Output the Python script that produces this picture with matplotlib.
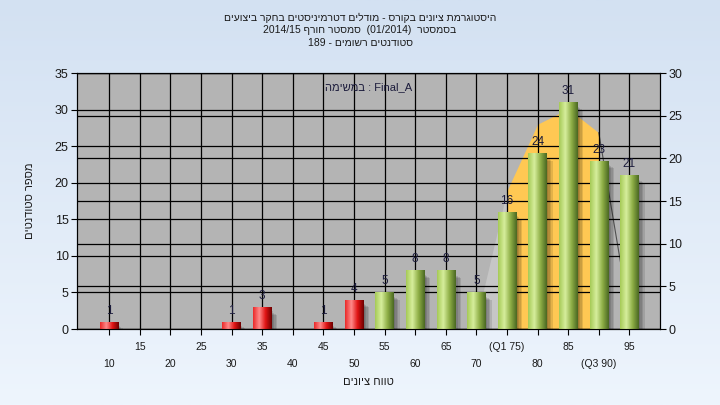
import re
import numpy as np
import matplotlib
matplotlib.use('Agg')
import matplotlib.pyplot as plt
from matplotlib.colors import LinearSegmentedColormap

plt.rcParams['font.family'] = ['Liberation Sans', 'DejaVu Sans']

# data
grades = [10, 15, 20, 25, 30, 35, 40, 45, 50, 55, 60, 65, 70, 75, 80, 85, 90, 95]
counts = [1, 0, 0, 0, 1, 3, 0, 1, 4, 5, 8, 8, 5, 16, 24, 31, 23, 21]
tick_labels = ['10', '15', '20', '25', '30', '35', '40', '45', '50', '55', '60',
               '65', '70', '(Q1 75)', '80', '85', '(Q3 90)', '95']
pass_grade = 55
curve_grades = [70, 75, 80, 85, 90, 95]
curve_vals = [1.0, 16.2, 24.0, 25.8, 23.0, 1.6]   # right axis units
q1, q3 = 75, 90

title_lines = ['היסטוגרמת ציונים בקורס - מודלים דטרמיניסטים בחקר ביצועים',
               'בסמסטר  (01/2014)  סמסטר חורף 2014/15',
               'סטודנטים רשומים - 189']
task_text = 'Final_A : במשימה'
xlabel = 'טווח ציונים'
ylabel = 'מספר סטודנטים'


def rtl(text):
    # crude bidi: flip the string, put latin/number runs back, mirror brackets
    rev = text[::-1]
    rev = re.sub(r'[0-9A-Za-z_/.]+', lambda m: m.group(0)[::-1], rev)
    return rev.translate(str.maketrans('()', ')('))


fig = plt.figure(figsize=(7.2, 4.05), dpi=100)

bg = fig.add_axes([0, 0, 1, 1], zorder=-10)
bg.imshow(np.linspace(0, 1, 256).reshape(-1, 1), aspect='auto', extent=[0, 1, 0, 1],
          cmap=LinearSegmentedColormap.from_list('bg', ['#d3e1f2', '#eef5fd']))
bg.axis('off')

rect = [77 / 720, 1 - 329 / 405, (660 - 77) / 720, (329 - 73) / 405]
ax1 = fig.add_axes(rect)
ax2 = ax1.twinx()
ax1.set_zorder(ax2.get_zorder() + 1)
ax1.patch.set_visible(False)
ax2.patch.set_visible(True)
ax2.set_facecolor('#b4b4b4')

x = np.arange(len(grades))
cx = np.array([grades.index(g) for g in curve_grades])
cv = np.array(curve_vals)
i1 = curve_grades.index(q1)
i3 = curve_grades.index(q3)

# spread curve on the right axis
ax2.fill_between(cx[:i1 + 1], 0, cv[:i1 + 1], color='#c6c6c6', lw=0, zorder=0.2)
ax2.fill_between(cx[i1:i3 + 1], 0, cv[i1:i3 + 1], color='#ffc853', lw=0, zorder=0.3)
ax2.plot(cx[i3:], cv[i3:], color='#505050', lw=0.8, zorder=0.3)

ax2.set_ylim(0, 30)
ax2.set_yticks(range(0, 31, 5))
ax2.set_axisbelow(True)
ax2.yaxis.grid(True, color='black', lw=0.9)
ax2.tick_params(axis='y', direction='out', length=4, labelsize=9, labelcolor='#1a1a1a', pad=2)

ax1.set_axisbelow(True)
ax1.grid(True, color='black', lw=0.9)

w = 0.6
red_cmap = LinearSegmentedColormap.from_list('r', ['#ea2a2a', '#ff8a8a', '#e01414', '#6e0000'])
green_cmap = LinearSegmentedColormap.from_list('g', ['#a6ca56', '#d6ee9c', '#8eae46', '#4a6822'])
grad = np.linspace(0, 1, 64).reshape(1, -1)

for xi, c, g in zip(x, counts, grades):
    if c == 0:
        continue
    # soft drop shadow to the right
    for k in range(4):
        ax1.bar(xi + 0.05 + 0.05 * k, c - 0.6 - 0.15 * k, width=w, color='black',
                alpha=0.11, lw=0, zorder=1.5)
    bar = ax1.bar(xi, c, width=w, color='#a0c050', lw=0, zorder=2)[0]
    im = ax1.imshow(grad, extent=[xi - w / 2, xi + w / 2, 0, c], aspect='auto',
                    cmap=red_cmap if g < pass_grade else green_cmap, zorder=2.1)
    im.set_clip_path(bar)
    ax1.text(xi, c + 0.7, str(c), ha='center', va='bottom', fontsize=8.5, color='#1c1c3c')

ax1.set_xlim(-1.05, 18.0)
ax1.set_ylim(0, 35)
ax1.set_yticks(range(0, 36, 5))
ax1.set_xticks(x)
ax1.set_xticklabels(tick_labels)
ax1.tick_params(axis='y', direction='out', length=4, labelsize=9, labelcolor='#1a1a1a', pad=2)
ax1.tick_params(axis='x', direction='out', length=4, labelsize=7.5, labelcolor='#1a1a1a')
for i, t in enumerate(ax1.xaxis.get_major_ticks()):
    t.set_pad(5 if i % 2 else 17.5)

for sp in list(ax1.spines.values()) + list(ax2.spines.values()):
    sp.set_color('black')

ax1.text(0.5, 0.945, rtl(task_text), transform=ax1.transAxes, ha='center', va='center',
         fontsize=8, color='#1c1c3c')

ax1.set_xlabel(rtl(xlabel), fontsize=8, color='#1a1a1a', labelpad=6)
ax1.set_ylabel(rtl(ylabel), fontsize=8, color='#1a1a1a', labelpad=14)

for line, yp in zip(title_lines, [18, 30, 43]):
    fig.text(0.5, 1 - yp / 405, rtl(line), ha='center', va='center', fontsize=7.5,
             color='#1a1a1a')

fig.savefig('out.png', dpi=100)
